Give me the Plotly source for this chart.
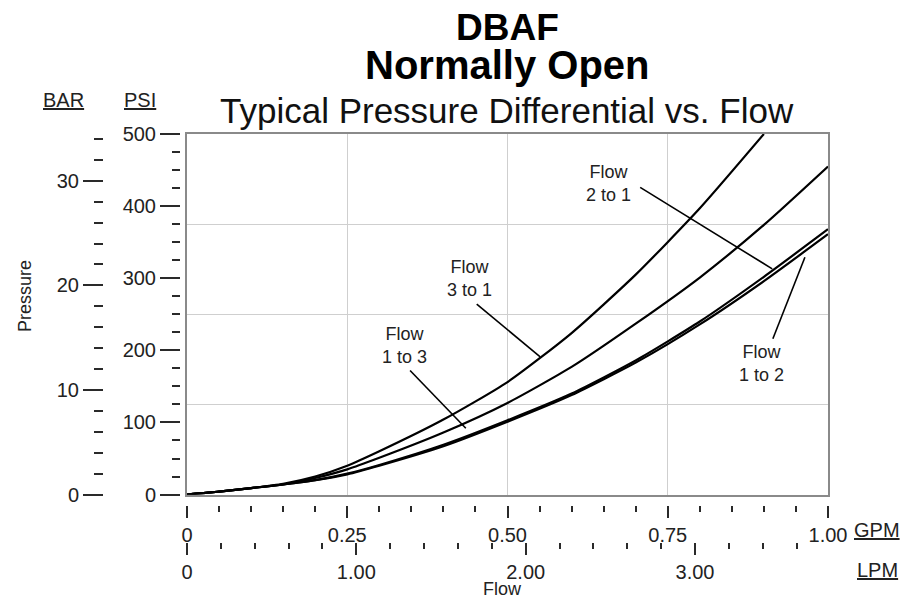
import plotly.graph_objects as go

# ---------------- data ----------------
gpm_3_to_1 = [0, 0.05, 0.1, 0.15, 0.2, 0.25, 0.3, 0.4, 0.5, 0.6, 0.7, 0.8, 0.9]
psi_3_to_1 = [0, 4, 9, 15, 25, 40, 60, 104, 156, 224, 305, 397, 500]

gpm_other = [0, 0.05, 0.1, 0.15, 0.2, 0.25, 0.3, 0.4, 0.5, 0.6, 0.7, 0.8, 0.9, 1.0]
psi_1_to_3 = [0, 4, 9, 14, 23, 35, 51, 86, 127, 177, 237, 301, 374, 455]
psi_2_to_1 = [0, 4, 9, 14, 20, 29, 41, 69, 103, 140, 186, 240, 302, 368]
psi_1_to_2 = [0, 4, 9, 14, 20, 28, 40, 67, 101, 138, 183, 236, 296, 361]

label_text = ["Flow<br>3 to 1", "Flow<br>1 to 3", "Flow<br>2 to 1", "Flow<br>1 to 2"]
label_x = [0.440, 0.339, 0.657, 0.897]
label_y = [299, 207, 431, 182]
leader_x0 = [0.452, 0.348, 0.707, 0.914]
leader_y0 = [264, 172, 426, 216]
leader_x1 = [0.551, 0.435, 0.913, 0.964]
leader_y1 = [191, 92, 313, 329]

psi_ticks = [0, 100, 200, 300, 400, 500]
bar_ticks = [0, 10, 20, 30]
gpm_ticks = [0, 0.25, 0.5, 0.75, 1.0]
gpm_ticktext = ["0", "0.25", "0.50", "0.75", "1.00"]
lpm_ticks = [0, 1, 2, 3]
lpm_ticktext = ["0", "1.00", "2.00", "3.00"]
grid_psi = [125, 250, 375]
grid_gpm = [0.25, 0.5, 0.75]

PSI_MAX = 500
PSI_PER_BAR = 14.5038
LPM_PER_GPM = 3.78541

titles = ["DBAF", "Normally Open", "Typical Pressure Differential vs. Flow"]

# ---------------- layout helpers ----------------
# the page body adds an 8px offset, so the figure is drawn 8px smaller and
# every target position (in screenshot pixels) is shifted by that offset
OFF = 8
FIG_W, FIG_H = 909 - OFF, 604 - OFF
L, R, T, B = 32, 81, 126, 20
W = FIG_W - L - R
H = FIG_H - T - B


def px_x(px):
    return (px - OFF - L) / W


def px_y(py):
    return (FIG_H - B - (py - OFF)) / H


FONT = "Liberation Sans, Arial, sans-serif"
TICKC = "#2a2a2a"

fig = go.Figure()

line_style = dict(color="black", width=2.2, shape="spline", smoothing=0.6)
fig.add_trace(go.Scatter(x=gpm_3_to_1, y=psi_3_to_1, mode="lines", line=line_style, name="Flow 3 to 1"))
fig.add_trace(go.Scatter(x=gpm_other, y=psi_1_to_3, mode="lines", line=line_style, name="Flow 1 to 3"))
fig.add_trace(go.Scatter(x=gpm_other, y=psi_2_to_1, mode="lines", line=line_style, name="Flow 2 to 1"))
fig.add_trace(go.Scatter(x=gpm_other, y=psi_1_to_2, mode="lines", line=line_style, name="Flow 1 to 2"))

# leader lines and labels
for i in range(len(label_text)):
    fig.add_shape(type="line", xref="x", yref="y",
                  x0=leader_x0[i], y0=leader_y0[i], x1=leader_x1[i], y1=leader_y1[i],
                  line=dict(color="black", width=1.6))
    fig.add_annotation(x=label_x[i], y=label_y[i], xref="x", yref="y", text=label_text[i],
                       showarrow=False, font=dict(family=FONT, size=18, color="#222"),
                       align="center", xanchor="center", yanchor="middle")

xdom0 = px_x(187)
ydom0 = px_y(497)

tickfont = dict(family=FONT, size=20, color="#222")

fig.update_layout(
    width=FIG_W, height=FIG_H,
    margin=dict(l=L, r=R, t=T, b=B),
    paper_bgcolor="white", plot_bgcolor="white",
    showlegend=False,
    xaxis=dict(domain=[xdom0, 1], range=[0, 1], tickvals=grid_gpm, showticklabels=False,
               ticks="", showgrid=True, gridcolor="#cfcfcf", gridwidth=1, zeroline=False,
               showline=True, mirror=True, linecolor="#8a8a8a", linewidth=2),
    yaxis=dict(domain=[ydom0, 1], range=[0, PSI_MAX], tickvals=grid_psi, showticklabels=False,
               ticks="", showgrid=True, gridcolor="#cfcfcf", gridwidth=1, zeroline=False,
               showline=True, mirror=True, linecolor="#8a8a8a", linewidth=2),
    yaxis2=dict(overlaying="y", anchor="free", position=px_x(180), side="left",
                range=[0, PSI_MAX], tickmode="array", tickvals=psi_ticks,
                ticks="outside", ticklen=20, tickwidth=2, tickcolor=TICKC,
                minor=dict(tick0=0, dtick=25, ticks="outside", ticklen=8, tickwidth=2,
                           tickcolor=TICKC, showgrid=False),
                showgrid=False, zeroline=False, showline=False, tickfont=tickfont),
    yaxis3=dict(overlaying="y", anchor="free", position=px_x(103), side="left",
                range=[0, PSI_MAX / PSI_PER_BAR], tickmode="array", tickvals=bar_ticks,
                ticks="outside", ticklen=20, tickwidth=2, tickcolor=TICKC,
                minor=dict(tick0=0, dtick=2, ticks="outside", ticklen=9, tickwidth=2,
                           tickcolor=TICKC, showgrid=False),
                showgrid=False, zeroline=False, showline=False, tickfont=tickfont),
    xaxis2=dict(overlaying="x", anchor="free", position=px_y(507), side="bottom",
                range=[0, 1], tickmode="array", tickvals=gpm_ticks, ticktext=gpm_ticktext,
                ticks="outside", ticklen=12, tickwidth=2, tickcolor=TICKC,
                minor=dict(tick0=0, dtick=0.05, ticks="outside", ticklen=6, tickwidth=1.5,
                           tickcolor=TICKC, showgrid=False),
                showgrid=False, zeroline=False, showline=False, tickfont=tickfont),
    xaxis3=dict(overlaying="x", anchor="free", position=px_y(545), side="bottom",
                range=[0, LPM_PER_GPM], tickmode="array", tickvals=lpm_ticks, ticktext=lpm_ticktext,
                ticks="outside", ticklen=12, tickwidth=2, tickcolor=TICKC,
                minor=dict(tick0=0, dtick=0.2, ticks="outside", ticklen=6, tickwidth=1.5,
                           tickcolor=TICKC, showgrid=False),
                showgrid=False, zeroline=False, showline=False, tickfont=tickfont),
)

# invisible traces to bind the extra axes
for xa, ya in [("x", "y2"), ("x", "y3"), ("x2", "y"), ("x3", "y")]:
    fig.add_trace(go.Scatter(x=[0], y=[0], xaxis=xa, yaxis=ya, mode="markers",
                             marker=dict(opacity=0), hoverinfo="skip"))


def paper_text(x, y, text, size, color="#222", angle=0):
    fig.add_annotation(x=px_x(x), y=px_y(y), xref="paper", yref="paper", text=text,
                       showarrow=False, textangle=angle, xanchor="center", yanchor="middle",
                       font=dict(family=FONT, size=size, color=color))


# titles
paper_text(507, 27, "<b>" + titles[0] + "</b>", 37, "black")
paper_text(507, 64.5, "<b>" + titles[1] + "</b>", 40, "black")
paper_text(507, 110, titles[2], 35, "#111")

# unit labels
paper_text(63, 100, "<u>BAR</u>", 20)
paper_text(140, 100, "<u>PSI</u>", 20)
paper_text(877, 533, "<u>GPM</u>", 20)
paper_text(877, 573, "<u>LPM</u>", 20)

# axis titles
paper_text(25, 297, "Pressure", 18, angle=-90)
paper_text(503, 592, "Flow", 18)

fig.write_html("out.html")
